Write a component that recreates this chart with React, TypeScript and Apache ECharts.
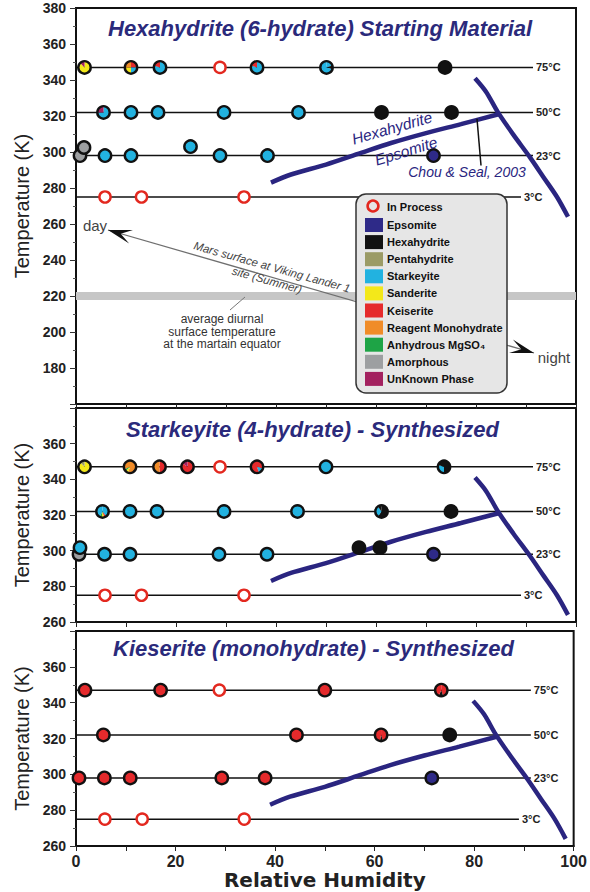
import React, { useEffect, useRef } from "react";
import * as echarts from "echarts";

type Phase = [string, number];
type Pt = [number, number, Phase[]];

const IP = "In Process";
const EPS = "Epsomite";
const HEX = "Hexahydrite";
const PEN = "Pentahydrite";
const STA = "Starkeyite";
const SAN = "Sanderite";
const KIE = "Keiserite";
const REA = "Reagent Monohydrate";
const ANH = "Anhydrous MgSO₄";
const AMO = "Amorphous";
const UNK = "UnKnown Phase";

const legendPhases = [EPS, HEX, PEN, STA, SAN, KIE, REA, ANH, AMO, UNK];

const panelTitles = [
  "Hexahydrite (6-hydrate) Starting Material",
  "Starkeyite (4-hydrate) - Synthesized",
  "Kieserite (monohydrate) - Synthesized",
];

const tempRanges: [number, number][] = [
  [160, 380],
  [260, 380],
  [260, 380],
];

const rowTemps = [347, 322, 298, 275];
const rowLabels = ["75°C", "50°C", "23°C", "3°C"];
const rowEnds = [91.4, 91.4, 91.4, 89];

const marsBandTemp = 220;

// Hexahydrite / Epsomite boundary (Chou & Seal, 2003)
const hydrateBoundary: [number, number][] = [
  [39, 283],
  [43, 287.5],
  [50, 293],
  [57, 299.5],
  [63, 305],
  [70, 310.5],
  [77, 315.5],
  [84.5, 321],
];

// deliquescence curve
const deliquescence: [number, number][] = [
  [79.8, 341],
  [82, 333.5],
  [84.4, 322],
  [87.5, 309.5],
  [90.8, 297],
  [93.5, 286],
  [96.2, 275],
  [98.4, 264],
];

const chouLeader: [number, number][] = [
  [80.2, 318.5],
  [81, 292.5],
];

const hexaPoints: Pt[] = [
  [1.7, 347, [[SAN, 0.88], [UNK, 0.12]]],
  [11, 347, [[KIE, 0.25], [STA, 0.25], [SAN, 0.25], [REA, 0.25]]],
  [16.8, 347, [[STA, 0.8], [KIE, 0.2]]],
  [28.8, 347, [[IP, 1]]],
  [36.2, 347, [[STA, 0.8], [KIE, 0.2]]],
  [50.1, 347, [[STA, 0.2], [HEX, 0.1], [STA, 0.7]]],
  [73.8, 347, [[HEX, 1]]],
  [5.5, 322, [[STA, 0.75], [UNK, 0.25]]],
  [11, 322, [[STA, 1]]],
  [16.4, 322, [[STA, 1]]],
  [29.6, 322, [[STA, 1]]],
  [44.5, 322, [[STA, 1]]],
  [61.1, 322, [[HEX, 1]]],
  [75.1, 322, [[HEX, 1]]],
  [0.8, 298, [[AMO, 1]]],
  [1.6, 302.5, [[AMO, 1]]],
  [5.8, 298, [[STA, 1]]],
  [11, 298, [[STA, 1]]],
  [22.9, 303, [[STA, 1]]],
  [28.8, 298, [[STA, 1]]],
  [38.3, 298, [[STA, 1]]],
  [71.5, 298, [[EPS, 1]]],
  [5.8, 275, [[IP, 1]]],
  [13.1, 275, [[IP, 1]]],
  [33.6, 275, [[IP, 1]]],
];

const starkPoints: Pt[] = [
  [1.7, 347, [[SAN, 0.88], [PEN, 0.12]]],
  [10.8, 347, [[REA, 0.55], [SAN, 0.08], [ANH, 0.06], [REA, 0.31]]],
  [16.7, 347, [[KIE, 0.5], [REA, 0.5]]],
  [22.3, 347, [[KIE, 0.85], [UNK, 0.15]]],
  [28.8, 347, [[IP, 1]]],
  [36.2, 347, [[KIE, 0.3], [STA, 0.15], [KIE, 0.55]]],
  [50, 347, [[STA, 1]]],
  [73.6, 347, [[HEX, 0.5], [STA, 0.3], [HEX, 0.2]]],
  [5.3, 322, [[STA, 0.4], [KIE, 0.06], [SAN, 0.06], [ANH, 0.06], [STA, 0.42]]],
  [10.8, 322, [[STA, 1]]],
  [16.2, 322, [[STA, 1]]],
  [29.6, 322, [[STA, 1]]],
  [44.3, 322, [[STA, 1]]],
  [61.1, 322, [[HEX, 0.6], [STA, 0.3], [HEX, 0.1]]],
  [75, 322, [[HEX, 1]]],
  [0.6, 298, [[AMO, 1]]],
  [0.8, 301.7, [[STA, 1]]],
  [5.7, 298, [[STA, 1]]],
  [10.8, 298, [[STA, 1]]],
  [28.6, 298, [[STA, 1]]],
  [38.2, 298, [[STA, 1]]],
  [56.6, 301.7, [[HEX, 1]]],
  [60.8, 301.7, [[HEX, 1]]],
  [71.5, 298, [[EPS, 1]]],
  [5.8, 275, [[IP, 1]]],
  [13.1, 275, [[IP, 1]]],
  [33.6, 275, [[IP, 1]]],
];

const kieserPoints: Pt[] = [
  [1.8, 347, [[KIE, 1]]],
  [17, 347, [[KIE, 1]]],
  [28.8, 347, [[IP, 1]]],
  [50, 347, [[KIE, 1]]],
  [73.4, 347, [[KIE, 0.45], [HEX, 0.12], [KIE, 0.43]]],
  [5.5, 322, [[KIE, 1]]],
  [44.3, 322, [[KIE, 1]]],
  [61.3, 322, [[KIE, 0.45], [HEX, 0.08], [KIE, 0.47]]],
  [75.1, 322, [[HEX, 1]]],
  [0.6, 298, [[KIE, 1]]],
  [5.7, 298, [[KIE, 1]]],
  [10.9, 298, [[KIE, 1]]],
  [29.3, 298, [[KIE, 1]]],
  [38, 298, [[KIE, 1]]],
  [71.5, 298, [[EPS, 1]]],
  [5.8, 275, [[IP, 1]]],
  [13.3, 275, [[IP, 1]]],
  [33.8, 275, [[IP, 1]]],
];

const panelPoints = [hexaPoints, starkPoints, kieserPoints];

// ---- styles ----
const COLORS: Record<string, string> = {
  [EPS]: "#2e2a88",
  [HEX]: "#121212",
  [PEN]: "#9b9b66",
  [STA]: "#22b2e0",
  [SAN]: "#f3e81a",
  [KIE]: "#e52a2c",
  [REA]: "#f08c28",
  [ANH]: "#1ea446",
  [AMO]: "#9d9fa1",
  [UNK]: "#a3215f",
};
const NAVY = "#2a2580";
const TITLE_NAVY = "#2b2a7b";
const FONT = "'Liberation Sans', Arial, Helvetica, sans-serif";

const grids = [
  { left: 76, top: 8, width: 500, height: 396 },
  { left: 76, top: 408, width: 500, height: 214 },
  { left: 76, top: 631, width: 500, height: 215 },
];
const titlePos: [number, number][] = [
  [108, 28],
  [126, 429],
  [113, 648],
];

function makeRender(pts: Pt[]) {
  return (params: any, api: any) => {
    const c = api.coord([api.value(0), api.value(1)]);
    const cx = c[0];
    const cy = c[1];
    const phases = pts[params.dataIndex][2];
    const R = 6.2;
    if (phases[0][0] === IP) {
      return {
        type: "circle",
        shape: { cx, cy, r: 5.6 },
        style: { fill: "#ffffff", stroke: "#e3281f", lineWidth: 2.4 },
      };
    }
    const children: any[] = [];
    if (phases.length === 1) {
      children.push({ type: "circle", shape: { cx, cy, r: R }, style: { fill: COLORS[phases[0][0]] } });
    } else {
      let a = -Math.PI / 2;
      for (const [ph, f] of phases) {
        const e = a + f * Math.PI * 2;
        children.push({
          type: "sector",
          shape: { cx, cy, r: R, r0: 0, startAngle: a, endAngle: e, clockwise: true },
          style: { fill: COLORS[ph] },
        });
        a = e;
      }
    }
    children.push({
      type: "circle",
      shape: { cx, cy, r: R },
      style: { fill: "none", stroke: "#111111", lineWidth: 2.4 },
    });
    return { type: "group", children };
  };
}

function arrowHead(tip: [number, number], from: [number, number], L: number, W: number) {
  const dx = tip[0] - from[0];
  const dy = tip[1] - from[1];
  const len = Math.sqrt(dx * dx + dy * dy);
  const ux = dx / len;
  const uy = dy / len;
  const nx = -uy;
  const ny = ux;
  return [
    [tip[0], tip[1]],
    [tip[0] - L * ux + W * nx, tip[1] - L * uy + W * ny],
    [tip[0] - 0.55 * L * ux, tip[1] - 0.55 * L * uy],
    [tip[0] - L * ux - W * nx, tip[1] - L * uy - W * ny],
  ];
}

function buildOption() {
  const xAxis: any[] = [];
  const yAxis: any[] = [];
  const series: any[] = [];

  grids.forEach((g, i) => {
    const isBottom = i === 2;
    xAxis.push({
      gridIndex: i,
      type: "value",
      min: 0,
      max: 100,
      interval: 10,
      axisLine: { show: true, lineStyle: { color: "#111", width: 2 } },
      axisTick: { show: true, length: 5, lineStyle: { color: "#222", width: 1 } },
      axisLabel: {
        show: isBottom,
        fontSize: 16,
        fontWeight: "bold",
        color: "#222",
        fontFamily: FONT,
        margin: 7,
        formatter: (v: number) => (v % 20 === 0 ? String(v) : ""),
      },
      splitLine: { show: false },
      name: isBottom ? "Relative Humidity" : "",
      nameLocation: "middle",
      nameGap: 22,
      nameTextStyle: {
        fontSize: 20,
        fontWeight: "bold",
        color: "#222",
        fontFamily: "'DejaVu Sans', Verdana, sans-serif",
      },
    });
    yAxis.push({
      gridIndex: i,
      type: "value",
      min: tempRanges[i][0],
      max: tempRanges[i][1],
      interval: 20,
      name: "Temperature (K)",
      nameLocation: "middle",
      nameGap: 41,
      nameTextStyle: { fontSize: 20, color: "#222", fontFamily: FONT },
      axisLine: { show: true, lineStyle: { color: "#111", width: 2 } },
      axisTick: { show: true, length: 6, lineStyle: { color: "#333", width: 1 } },
      minorTick: { show: true, splitNumber: 2, length: 3, lineStyle: { color: "#555", width: 1 } },
      axisLabel: {
        fontSize: 14,
        fontWeight: "bold",
        color: "#222",
        fontFamily: FONT,
        margin: 10,
        showMinLabel: i !== 0,
        showMaxLabel: i === 0,
      },
      splitLine: { show: false },
      minorSplitLine: { show: false },
    });

    if (i === 0) {
      series.push({
        type: "line",
        xAxisIndex: 0,
        yAxisIndex: 0,
        data: [
          [0, marsBandTemp],
          [100, marsBandTemp],
        ],
        symbol: "none",
        silent: true,
        z: 1,
        lineStyle: { color: "#c6c6c6", width: 8 },
      });
    }

    rowTemps.forEach((t, r) => {
      series.push({
        type: "line",
        xAxisIndex: i,
        yAxisIndex: i,
        data: [
          [0, t],
          [rowEnds[r], t],
        ],
        symbol: "none",
        silent: true,
        z: 2,
        lineStyle: { color: "#111", width: 1.5 },
        endLabel: {
          show: true,
          formatter: rowLabels[r],
          fontSize: 11,
          fontWeight: "bold",
          color: "#222",
          fontFamily: FONT,
          distance: 3,
        },
      });
    });

    [hydrateBoundary, deliquescence].forEach((curve) => {
      series.push({
        type: "line",
        xAxisIndex: i,
        yAxisIndex: i,
        data: curve,
        symbol: "none",
        smooth: 0.3,
        silent: true,
        z: 3,
        lineStyle: { color: NAVY, width: 4.5 },
      });
    });

    if (i === 0) {
      series.push({
        type: "line",
        xAxisIndex: 0,
        yAxisIndex: 0,
        data: chouLeader,
        symbol: "none",
        silent: true,
        z: 3,
        lineStyle: { color: "#111", width: 1.5 },
      });
    }

    const pts = panelPoints[i];
    series.push({
      type: "custom",
      xAxisIndex: i,
      yAxisIndex: i,
      data: pts.map((p) => [p[0], p[1]]),
      renderItem: makeRender(pts),
      clip: false,
      silent: true,
      z: 6,
    });
  });

  const graphic: any[] = [];

  // Titles
  panelTitles.forEach((t, i) => {
    graphic.push({
      type: "text",
      x: titlePos[i][0],
      y: titlePos[i][1],
      z: 20,
      style: {
        text: t,
        fill: TITLE_NAVY,
        font: `italic bold 22px ${FONT}`,
        align: "left",
        verticalAlign: "middle",
        textAlign: "left",
        textVerticalAlign: "middle",
      },
    });
  });

  // Viking lander line + arrows
  const dayTip: [number, number] = [108, 230];
  const nightTip: [number, number] = [534, 353];
  graphic.push({
    type: "line",
    z: 5,
    shape: { x1: dayTip[0], y1: dayTip[1], x2: nightTip[0], y2: nightTip[1] },
    style: { stroke: "#6f6f6f", lineWidth: 1.3 },
  });
  graphic.push({
    type: "polygon",
    z: 6,
    shape: { points: arrowHead(dayTip, nightTip, 24, 7) },
    style: { fill: "#111" },
  });
  graphic.push({
    type: "polygon",
    z: 6,
    shape: { points: arrowHead(nightTip, dayTip, 24, 7) },
    style: { fill: "#111" },
  });
  const tilt = -0.272;
  graphic.push({
    type: "text",
    x: 272,
    y: 267,
    rotation: tilt,
    z: 6,
    style: {
      text: "Mars surface at Viking Lander 1",
      fill: "#444",
      font: `italic 11.5px ${FONT}`,
      align: "center",
      verticalAlign: "middle",
      textAlign: "center",
      textVerticalAlign: "middle",
    },
  });
  graphic.push({
    type: "text",
    x: 267,
    y: 280,
    rotation: tilt,
    z: 6,
    style: {
      text: "site (Summer)",
      fill: "#444",
      font: `italic 11.5px ${FONT}`,
      align: "center",
      verticalAlign: "middle",
      textAlign: "center",
      textVerticalAlign: "middle",
    },
  });
  graphic.push({
    type: "text",
    x: 95,
    y: 225,
    z: 6,
    style: { text: "day", fill: "#444", font: `15px ${FONT}`, align: "center", verticalAlign: "middle", textAlign: "center", textVerticalAlign: "middle" },
  });
  graphic.push({
    type: "text",
    x: 554,
    y: 357,
    z: 6,
    style: { text: "night", fill: "#444", font: `15px ${FONT}`, align: "center", verticalAlign: "middle", textAlign: "center", textVerticalAlign: "middle" },
  });

  // average diurnal annotation
  graphic.push({
    type: "line",
    z: 5,
    shape: { x1: 245, y1: 297, x2: 230, y2: 310 },
    style: { stroke: "#777", lineWidth: 1 },
  });
  ["average diurnal", "surface temperature", "at the martain equator"].forEach((s, k) => {
    graphic.push({
      type: "text",
      x: 222,
      y: 319 + k * 12.5,
      z: 6,
      style: { text: s, fill: "#333", font: `12px ${FONT}`, align: "center", verticalAlign: "middle", textAlign: "center", textVerticalAlign: "middle" },
    });
  });

  // curve annotations
  graphic.push({
    type: "text",
    x: 392,
    y: 128,
    rotation: 0.28,
    z: 7,
    style: { text: "Hexahydrite", fill: NAVY, font: `italic 15.5px ${FONT}`, align: "center", verticalAlign: "middle", textAlign: "center", textVerticalAlign: "middle" },
  });
  graphic.push({
    type: "text",
    x: 406,
    y: 151,
    rotation: 0.3,
    z: 7,
    style: { text: "Epsomite", fill: NAVY, font: `italic 15.5px ${FONT}`, align: "center", verticalAlign: "middle", textAlign: "center", textVerticalAlign: "middle" },
  });
  graphic.push({
    type: "text",
    x: 467,
    y: 172,
    z: 7,
    style: { text: "Chou & Seal, 2003", fill: NAVY, font: `italic 14px ${FONT}`, align: "center", verticalAlign: "middle", textAlign: "center", textVerticalAlign: "middle" },
  });

  // Legend box
  graphic.push({
    type: "rect",
    z: 10,
    shape: { x: 356, y: 194, width: 151, height: 199, r: 10 },
    style: { fill: "#e6e6e6", stroke: "#333", lineWidth: 1.5 },
  });
  graphic.push({
    type: "circle",
    z: 11,
    shape: { cx: 373, cy: 206, r: 5.4 },
    style: { fill: "#e6e6e6", stroke: "#e3281f", lineWidth: 2.6 },
  });
  graphic.push({
    type: "text",
    x: 387,
    y: 207,
    z: 11,
    style: { text: IP, fill: "#111", font: `bold 11px ${FONT}`, align: "left", verticalAlign: "middle", textAlign: "left", textVerticalAlign: "middle" },
  });
  legendPhases.forEach((p, k) => {
    const cy = 225 + k * 17.1;
    graphic.push({
      type: "rect",
      z: 11,
      shape: { x: 365, y: cy - 7, width: 18, height: 14 },
      style: { fill: COLORS[p] },
    });
    graphic.push({
      type: "text",
      x: 387,
      y: cy,
      z: 11,
      style: { text: p, fill: "#111", font: `bold 11px ${FONT}`, align: "left", verticalAlign: "middle", textAlign: "left", textVerticalAlign: "middle" },
    });
  });

  return {
    animation: false,
    backgroundColor: "#ffffff",
    grid: grids.map((g) => ({
      ...g,
      show: true,
      borderColor: "#111",
      borderWidth: 2,
      backgroundColor: "#ffffff",
      containLabel: false,
    })),
    xAxis,
    yAxis,
    series,
    graphic: { elements: graphic },
  };
}

export default function App() {
  const ref = useRef<HTMLDivElement>(null);
  useEffect(() => {
    if (!ref.current) return;
    const chart = echarts.init(ref.current, undefined, { renderer: "svg" });
    chart.setOption(buildOption() as any);
    return () => chart.dispose();
  }, []);
  return (
    <div
      ref={ref}
      style={{ position: "fixed", left: 0, top: 0, width: 590, height: 892, background: "#fff" }}
    />
  );
}
